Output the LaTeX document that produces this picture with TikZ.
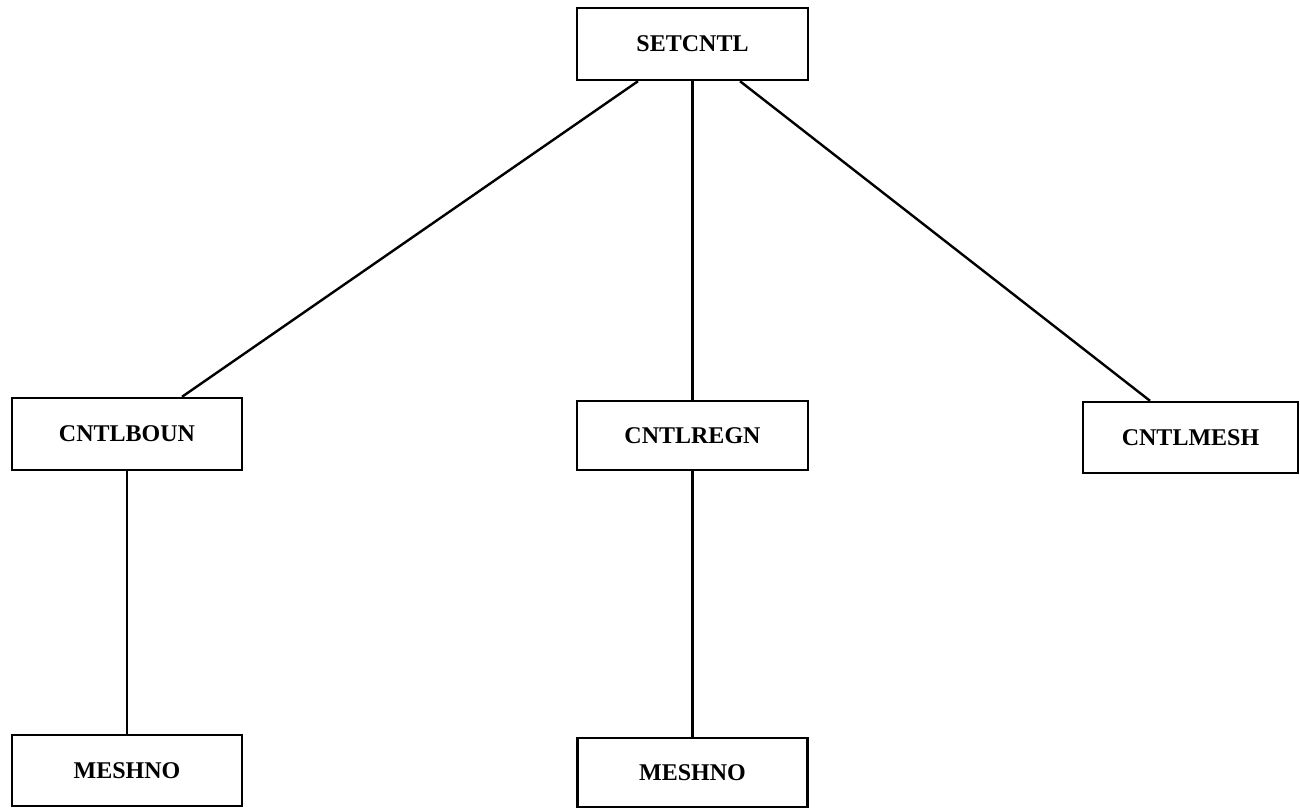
\documentclass[tikz,border=0pt]{standalone}
\usepackage{fontspec}
\setmainfont{Liberation Serif}
\begin{document}
\begin{tikzpicture}[x=1pt,y=-1pt,
  box/.style={draw=black, line width=2.4pt, rectangle, inner sep=0pt,
    font=\fontsize{24}{28}\selectfont\bfseries},
  link/.style={draw=black, line width=2.4pt}]
\useasboundingbox (0,0) rectangle (1300,807);
\begin{scope}
\clip (0,0) rectangle (1300,807);
% call tree boxes
\node[box, minimum width=231pt, minimum height=72pt] (setcntl) at (692.5,44) {SETCNTL};
\node[box, minimum width=230pt, minimum height=72pt] (boun) at (127,434) {CNTLBOUN};
\node[box, minimum width=231pt, minimum height=69pt] (regn) at (692.5,435.5) {CNTLREGN};
\node[box, minimum width=215pt, minimum height=71pt] (mesh) at (1190.5,437.5) {CNTLMESH};
\node[box, minimum width=230pt, minimum height=71pt] (meshnoa) at (127,770.5) {MESHNO};
\node[box, minimum width=230pt, minimum height=69pt] (meshnob) at (692.5,772.5) {MESHNO};
% connectors
\draw[link] ([xshift=-54.5pt]setcntl.south) -- ([xshift=55pt]boun.north);
\draw[link] (setcntl.south) -- (regn.north);
\draw[link] ([xshift=47.5pt]setcntl.south) -- ([xshift=-40.5pt]mesh.north);
\draw[link] (boun.south) -- (meshnoa.north);
\draw[link] (regn.south) -- (meshnob.north);
\end{scope}
\end{tikzpicture}
\end{document}
